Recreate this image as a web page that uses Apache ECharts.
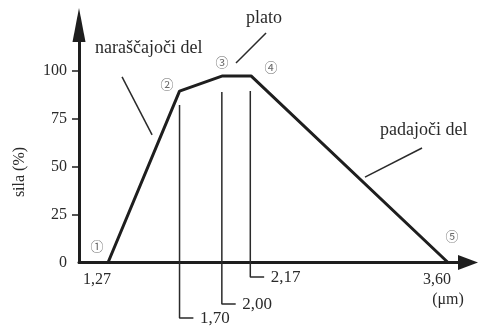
<!DOCTYPE html>
<html>
<head>
<meta charset="utf-8">
<script src="https://cdn.jsdelivr.net/npm/echarts@6/dist/echarts.min.js"></script>
<style>
  html, body { margin: 0; padding: 0; background: #fff; }
  #chart { width: 481px; height: 329px; }
</style>
</head>
<body>
<div id="chart"></div>
<script>
// dolžina sarkomere (um) in sila (%)
const curveX = [1.27, 1.76, 2.055, 2.25, 3.60];
const curveY = [0, 89.5, 97.4, 97.4, 0];
const pointNames = ['①', '②', '③', '④', '⑤'];
const axisTicksX = [1.27, 3.60];
const tickLabelsY = [0, 25, 50, 75, 100];

// navpične črte do oznak pod osjo
const dropX = [1.76, 2.05, 2.245];
const dropTop = [82.2, 89, 89.6];
const dropBottom = [-29, -21.7, -7.6];
const dropLabels = ['1,70', '2,00', '2,17'];
const footLen = 0.095;

// opisi delov krivulje
const partNames = ['naraščajoči del', 'plato', 'padajoči del'];
const leaderFrom = [[1.366, 96.9], [2.353, 119.8], [3.422, 59.8]];
const leaderTo = [[1.572, 66.6], [2.147, 104.2], [3.031, 44.6]];

const serif = '"Liberation Serif", "DejaVu Serif", serif';
const ink = '#1e1e1e';

const chart = echarts.init(document.getElementById('chart'));

const series = [];
series.push({
  type: 'line',
  data: curveX.map((x, i) => [x, curveY[i]]),
  symbol: 'none',
  clip: false,
  lineStyle: { color: ink, width: 3 },
  z: 5,
});

dropX.forEach((x, i) => {
  series.push({
    type: 'line',
    symbol: 'circle',
    symbolSize: 1,
    itemStyle: { color: 'rgba(0,0,0,0)' },
    clip: false,
    lineStyle: { color: '#2a2a2a', width: 1.5 },
    data: [
      [x, dropTop[i]],
      [x, dropBottom[i]],
      {
        value: [x + footLen, dropBottom[i]],
        label: {
          show: true,
          position: 'right',
          distance: 6,
          formatter: dropLabels[i],
          color: '#2a2a2a',
          fontFamily: serif,
          fontSize: 17,
        },
      },
    ],
  });
});

leaderFrom.forEach((p, i) => {
  series.push({
    type: 'line',
    symbol: 'none',
    clip: false,
    lineStyle: { color: '#2a2a2a', width: 1.5 },
    data: [p, leaderTo[i]],
  });
});

// položaji besedil (px)
const partPos = [[95, 48], [246, 18], [380, 130]];
const numPos = [[97, 246], [167, 84], [222, 62], [271, 67], [452, 236]];

const graphic = [];
partNames.forEach((t, i) => {
  graphic.push({
    type: 'text', x: partPos[i][0], y: partPos[i][1],
    style: { text: t, fill: '#2a2a2a', font: '18px ' + serif, textAlign: 'left', textVerticalAlign: 'middle' },
  });
});
pointNames.forEach((t, i) => {
  graphic.push({
    type: 'text', x: numPos[i][0], y: numPos[i][1],
    style: { text: t, fill: '#6a6a6a', font: '13px "Noto Sans CJK JP"', textAlign: 'center', textVerticalAlign: 'middle' },
  });
});
graphic.push({
  type: 'text', x: 20, y: 172, rotation: Math.PI / 2,
  style: { text: 'sila (%)', fill: '#2a2a2a', font: '16px ' + serif, textAlign: 'center', textVerticalAlign: 'middle' },
});
graphic.push({
  type: 'text', x: 448, y: 300,
  style: { text: '(μm)', fill: '#2a2a2a', font: '16px ' + serif, textAlign: 'center', textVerticalAlign: 'middle' },
});

chart.setOption({
  animation: false,
  grid: { left: 79, right: 13, top: 25, bottom: 66.5, outerBoundsMode: 'none' },
  xAxis: {
    type: 'value',
    min: 1.071,
    max: 3.737,
    axisLine: {
      onZero: true,
      symbol: ['none', 'triangle'],
      symbolSize: [15, 20],
      lineStyle: { color: ink, width: 3 },
    },
    axisTick: { show: false },
    axisLabel: {
      customValues: axisTicksX,
      formatter: (v) => v.toFixed(2).replace('.', ','),
      margin: 9,
      padding: [0, 22, 0, 0],
      color: '#2a2a2a',
      fontFamily: serif,
      fontSize: 16,
    },
    splitLine: { show: false },
  },
  yAxis: {
    type: 'value',
    min: 0,
    max: 124,
    axisLine: {
      show: true,
      symbol: ['none', 'triangle'],
      symbolSize: [13, 34],
      lineStyle: { color: ink, width: 3 },
    },
    axisTick: {
      show: true,
      customValues: [25, 50, 75, 100],
      length: 7,
      lineStyle: { color: ink, width: 1.5 },
    },
    axisLabel: {
      customValues: tickLabelsY,
      margin: 12,
      color: '#2a2a2a',
      fontFamily: serif,
      fontSize: 16,
    },
    splitLine: { show: false },
  },
  graphic,
  series,
});
</script>
</body>
</html>
